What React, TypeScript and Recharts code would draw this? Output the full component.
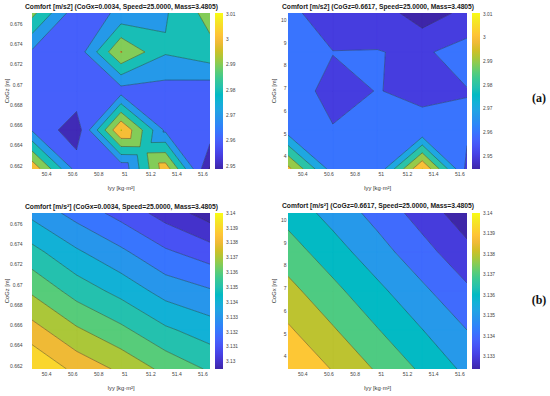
import { Bar, BarChart, Scatter, ScatterChart, XAxis, YAxis } from 'recharts';

// Grid nodes. Iyy runs along x in every panel; rows of the value tables go bottom -> top.
const IYY = [50.287, 50.629, 50.97, 51.312, 51.654];
const COGZ = [0.6617, 0.66555, 0.6694, 0.67325, 0.6771];
const COGX = [3.46, 5.1725, 6.885, 8.5975, 10.31];

const IYY_TICKS = [50.4, 50.6, 50.8, 51, 51.2, 51.4, 51.6];
const COGZ_TICKS = [0.662, 0.664, 0.666, 0.668, 0.67, 0.672, 0.674, 0.676];
const COGX_TICKS = [4, 5, 6, 7, 8, 9, 10];

// (a) comfort [m/s2]
const COMFORT_A_COGZ = [
  [3.008, 2.966, 2.962, 3.006, 2.9488],
  [2.969, 2.9537, 3.0104, 2.968, 2.966],
  [2.962, 2.967, 2.9655, 2.9657, 2.9636],
  [2.9685, 2.963, 3.0005, 2.981, 2.9865],
  [2.993, 2.9635, 2.972, 2.979, 2.994],
];
const COMFORT_A_COGX = [
  [3.003, 2.965, 2.962, 3.0104, 2.957],
  [2.965, 2.9602, 2.962, 2.961, 2.962],
  [2.9617, 2.9589, 2.9601, 2.9593, 2.9596],
  [2.963, 2.9601, 2.9603, 2.9586, 2.964],
  [2.9614, 2.957, 2.9555, 2.9445, 2.9528],
];
// (b) comfort [m/s²]
const COMFORT_B_COGZ = [
  [3.14, 3.13871, 3.1378, 3.13673, 3.13587],
  [3.1384, 3.13715, 3.13624, 3.13517, 3.1345],
  [3.13684, 3.13559, 3.13468, 3.13361, 3.1331],
  [3.13533, 3.13415, 3.1332, 3.13215, 3.1315],
  [3.13372, 3.13262, 3.13165, 3.1306, 3.1295],
];
const COMFORT_B_COGX = [
  [3.14, 3.13894, 3.13788, 3.13683, 3.13576],
  [3.13914, 3.1381, 3.13705, 3.13602, 3.135],
  [3.13832, 3.13728, 3.13625, 3.1352, 3.13418],
  [3.13747, 3.13645, 3.1354, 3.13437, 3.1333],
  [3.13664, 3.13563, 3.13465, 3.13357, 3.1324],
];

const LEVELS_A = [2.95, 2.96, 2.97, 2.98, 2.99, 3.0, 3.01];
const LEVELS_B_COGZ = [3.13, 3.131, 3.132, 3.133, 3.134, 3.135, 3.136, 3.137, 3.138, 3.139];
const LEVELS_B_COGX = [3.133, 3.134, 3.135, 3.136, 3.137, 3.138, 3.139];

const CB_TICKS_A = [2.95, 2.96, 2.97, 2.98, 2.99, 3, 3.01];
const CB_TICKS_B_COGZ = [3.13, 3.131, 3.132, 3.133, 3.134, 3.135, 3.136, 3.137, 3.138, 3.139, 3.14];
const CB_TICKS_B_COGX = [3.133, 3.134, 3.135, 3.136, 3.137, 3.138, 3.139, 3.14];

// parula, sampled every third entry of the 64-colour map
const PARULA = [
  '#3e26a8', '#4432cb', '#4741e5', '#4852f4', '#4563fd', '#3875fe', '#2e87f7', '#2796eb',
  '#20a5e3', '#12b1d6', '#02bac3', '#24c1ae', '#37c897', '#57cc7a', '#81cc59', '#abc739',
  '#d1bf27', '#efba36', '#fec338', '#fad62d', '#f5e924', '#f9fb15',
];

const FONT = '"Liberation Sans", Arial, sans-serif';
const TICK_STYLE = { fontSize: 5, fill: '#444', fontFamily: FONT };
const CB_TICK_STYLE = { fontSize: 4.8, fill: '#444', fontFamily: FONT };
const PLOT_H = 156;
const CB_W = 8;

type Vtx = [number, number, number];

function hexRgb(h: string) {
  return [1, 3, 5].map((i) => parseInt(h.slice(i, i + 2), 16));
}

function parula(t: number) {
  const u = Math.min(1, Math.max(0, t)) * (PARULA.length - 1);
  const i = Math.min(PARULA.length - 2, Math.floor(u));
  const f = u - i;
  const a = hexRgb(PARULA[i]);
  const b = hexRgb(PARULA[i + 1]);
  const c = a.map((v, k) => Math.round(v + f * (b[k] - v)));
  return `rgb(${c[0]},${c[1]},${c[2]})`;
}

// keep the part of a polygon above (or below) a level, interpolating along edges
function clip(poly: Vtx[], level: number, above: boolean): Vtx[] {
  const out: Vtx[] = [];
  for (let i = 0; i < poly.length; i++) {
    const a = poly[i];
    const b = poly[(i + 1) % poly.length];
    const ina = above ? a[2] >= level : a[2] <= level;
    const inb = above ? b[2] >= level : b[2] <= level;
    if (ina) out.push(a);
    if (ina !== inb) {
      const t = (level - a[2]) / (b[2] - a[2]);
      out.push([a[0] + t * (b[0] - a[0]), a[1] + t * (b[1] - a[1]), level]);
    }
  }
  return out;
}

function area(p: Vtx[]) {
  let s = 0;
  for (let i = 0; i < p.length; i++) {
    const a = p[i];
    const b = p[(i + 1) % p.length];
    s += a[0] * b[1] - b[0] * a[1];
  }
  return Math.abs(s) / 2;
}

// grid cells as quads; saddle cells are split in four triangles round their centre
function cellPolygons(xs: number[], ys: number[], z: number[][], levels: number[]) {
  const polys: Vtx[][] = [];
  for (let r = 0; r < ys.length - 1; r++) {
    for (let c = 0; c < xs.length - 1; c++) {
      const q: Vtx[] = [
        [xs[c], ys[r], z[r][c]],
        [xs[c + 1], ys[r], z[r][c + 1]],
        [xs[c + 1], ys[r + 1], z[r + 1][c + 1]],
        [xs[c], ys[r + 1], z[r + 1][c]],
      ];
      const saddle = levels.some((L) => {
        const s = q.map((p) => p[2] >= L);
        return s[0] === s[2] && s[1] === s[3] && s[0] !== s[1];
      });
      if (!saddle) {
        polys.push(q);
      } else {
        const m: Vtx = [0, 1, 2].map((k) => (q[0][k] + q[1][k] + q[2][k] + q[3][k]) / 4) as Vtx;
        for (let k = 0; k < 4; k++) polys.push([q[k], q[(k + 1) % 4], m]);
      }
    }
  }
  return polys;
}

function contourSegments(polys: Vtx[][], levels: number[]) {
  const segs: number[][][] = [];
  for (const p of polys) {
    for (const L of levels) {
      const pts: number[][] = [];
      for (let i = 0; i < p.length; i++) {
        const a = p[i];
        const b = p[(i + 1) % p.length];
        if (a[2] >= L !== b[2] >= L) {
          const t = (L - a[2]) / (b[2] - a[2]);
          pts.push([a[0] + t * (b[0] - a[0]), a[1] + t * (b[1] - a[1])]);
        }
      }
      if (pts.length === 2) segs.push(pts);
    }
  }
  return segs;
}

const noDot = () => <g />;

function fillRenderer(sizes: number[], fill: string) {
  return (props: any) => {
    const pts = props.points || [];
    let k = 0;
    let d = '';
    for (const n of sizes) {
      const ring = pts.slice(k, k + n).map((p: any) => `${p.x},${p.y}`);
      if (ring.length === n) d += `M${ring.join('L')}Z`;
      k += n;
    }
    return <path d={d} fill={fill} stroke={fill} strokeWidth={0.5} strokeLinejoin="round" />;
  };
}

function segRenderer(props: any) {
  const pts = props.points || [];
  let d = '';
  for (let i = 0; i + 1 < pts.length; i += 2) {
    d += `M${pts[i].x},${pts[i].y}L${pts[i + 1].x},${pts[i + 1].y}`;
  }
  return <path d={d} fill="none" stroke="#1e1e1e" strokeWidth={0.45} strokeOpacity={0.85} />;
}

interface PanelProps {
  id: string;
  z: number[][];
  ys: number[];
  yTicks: number[];
  levels: number[];
  cbTicks: number[];
  plotLeft: number;
  plotTop: number;
  plotWidth: number;
  cbLeft: number;
  yTickGap: number;
}

function ContourPanel({ id, z, ys, yTicks, levels, cbTicks, plotLeft, plotTop, plotWidth, cbLeft, yTickGap }: PanelProps) {
  const flat = z.flat();
  const zmin = Math.min(...flat);
  const zmax = Math.max(...flat);
  const polys = cellPolygons(IYY, ys, z, levels);
  const minArea = (IYY[4] - IYY[0]) * (ys[4] - ys[0]) * 1e-8;

  const bounds = [-Infinity, ...levels, Infinity];
  const bands = bounds.slice(0, -1).map((lo, i) => {
    const hi = bounds[i + 1];
    const pieces = polys
      .map((p) => {
        let g = p;
        if (lo > -Infinity) g = clip(g, lo, true);
        if (hi < Infinity && g.length) g = clip(g, hi, false);
        return g;
      })
      .filter((g) => g.length >= 3 && area(g) > minArea);
    const color = parula(((i === 0 ? zmin : lo) - zmin) / (zmax - zmin));
    return { pieces, color };
  });
  const segs = contourSegments(polys, levels);

  return (
    <>
      <div style={{ position: 'absolute', left: plotLeft - 32, top: plotTop - 13 }}>
        <ScatterChart
          width={plotWidth + 34}
          height={PLOT_H + 33}
          margin={{ top: 13, right: 2, bottom: 2, left: 8 }}
        >
          <XAxis
            type="number"
            dataKey="x"
            domain={[IYY[0], IYY[4]]}
            ticks={IYY_TICKS}
            interval={0}
            allowDataOverflow
            tickLine={false}
            axisLine={false}
            tickSize={2}
            tickMargin={1.5}
            height={18}
            tick={TICK_STYLE}
          />
          <YAxis
            type="number"
            dataKey="y"
            domain={[ys[0], ys[4]]}
            ticks={yTicks}
            interval={0}
            allowDataOverflow
            tickLine={false}
            axisLine={false}
            width={24}
            tickSize={yTickGap}
            tickMargin={0.5}
            tick={TICK_STYLE}
          />
          {bands
            .filter((b) => b.pieces.length > 0)
            .map((b, i) => (
              <Scatter
                key={`band-${i}`}
                data={b.pieces.flat().map(([x, y]) => ({ x, y }))}
                line={fillRenderer(b.pieces.map((p) => p.length), b.color)}
                shape={noDot}
                legendType="none"
                isAnimationActive={false}
              />
            ))}
          <Scatter
            data={segs.flat().map(([x, y]) => ({ x, y }))}
            line={segRenderer}
            shape={noDot}
            legendType="none"
            isAnimationActive={false}
          />
        </ScatterChart>
      </div>
      <div style={{ position: 'absolute', left: cbLeft - 2, top: plotTop - 13 }}>
        <BarChart
          width={2 + CB_W + 30}
          height={PLOT_H + 15}
          data={[{ k: 'cb', range: [zmin, zmax] }]}
          margin={{ top: 13, right: 2, bottom: 2, left: 2 }}
          barCategoryGap={0}
        >
          <defs>
            <linearGradient id={`parula-${id}`} x1="0" y1="1" x2="0" y2="0">
              {PARULA.map((c, i) => (
                <stop key={c} offset={i / (PARULA.length - 1)} stopColor={c} />
              ))}
            </linearGradient>
          </defs>
          <XAxis dataKey="k" hide />
          <YAxis
            orientation="right"
            type="number"
            domain={[zmin, zmax]}
            ticks={cbTicks}
            interval={0}
            allowDataOverflow
            tickLine={false}
            axisLine={false}
            width={28}
            tickSize={2}
            tickMargin={1}
            tick={CB_TICK_STYLE}
          />
          <Bar dataKey="range" fill={`url(#parula-${id})`} isAnimationActive={false} />
        </BarChart>
      </div>
    </>
  );
}

const TITLE = { fontFamily: FONT, fontSize: 6.3, fontWeight: 700, fill: '#1a1a1a' } as const;
const AXIS_LABEL = { fontFamily: FONT, fontSize: 5.8, fill: '#333' } as const;
const PANEL_TAG = { fontFamily: '"Liberation Serif", "DejaVu Serif", serif', fontSize: 12, fontWeight: 700, fill: '#111' } as const;

export default function App() {
  return (
    <div style={{ position: 'absolute', left: 0, top: 0, width: 550, height: 396, background: '#fff', overflow: 'hidden' }}>
      <ContourPanel id="a1" z={COMFORT_A_COGZ} ys={COGZ} yTicks={COGZ_TICKS} levels={LEVELS_A} cbTicks={CB_TICKS_A}
        plotLeft={32} plotTop={13} plotWidth={178} cbLeft={215} yTickGap={9} />
      <ContourPanel id="a2" z={COMFORT_A_COGX} ys={COGX} yTicks={COGX_TICKS} levels={LEVELS_A} cbTicks={CB_TICKS_A}
        plotLeft={288} plotTop={13} plotWidth={179} cbLeft={472} yTickGap={1} />
      <ContourPanel id="b1" z={COMFORT_B_COGZ} ys={COGZ} yTicks={COGZ_TICKS} levels={LEVELS_B_COGZ} cbTicks={CB_TICKS_B_COGZ}
        plotLeft={32} plotTop={213} plotWidth={178} cbLeft={215} yTickGap={9} />
      <ContourPanel id="b2" z={COMFORT_B_COGX} ys={COGX} yTicks={COGX_TICKS} levels={LEVELS_B_COGX} cbTicks={CB_TICKS_B_COGX}
        plotLeft={288} plotTop={213} plotWidth={179} cbLeft={472} yTickGap={1} />

      <svg width={550} height={396} style={{ position: 'absolute', left: 0, top: 0, pointerEvents: 'none' }}>
        <text x={121.5} y={9.2} textAnchor="middle" textLength={193} lengthAdjust="spacingAndGlyphs" {...TITLE}>
          Comfort [m/s2] (CoGx=0.0034, Speed=25.0000, Mass=3.4805)
        </text>
        <text x={378} y={9.2} textAnchor="middle" textLength={192} lengthAdjust="spacingAndGlyphs" {...TITLE}>
          Comfort [m/s2] (CoGz=0.6617, Speed=25.0000, Mass=3.4805)
        </text>
        <text x={121.5} y={208.5} textAnchor="middle" textLength={193} lengthAdjust="spacingAndGlyphs" {...TITLE}>
          Comfort [m/s²] (CoGx=0.0034, Speed=25.0000, Mass=3.4805)
        </text>
        <text x={378} y={208} textAnchor="middle" textLength={192} lengthAdjust="spacingAndGlyphs" {...TITLE}>
          Comfort [m/s²] (CoGz=0.6617, Speed=25.0000, Mass=3.4805)
        </text>

        <text x={121} y={190} textAnchor="middle" {...AXIS_LABEL}>Iyy [kg·m²]</text>
        <text x={377.5} y={190} textAnchor="middle" {...AXIS_LABEL}>Iyy [kg·m²]</text>
        <text x={121} y={390} textAnchor="middle" {...AXIS_LABEL}>Iyy [kg·m²]</text>
        <text x={377.5} y={390} textAnchor="middle" {...AXIS_LABEL}>Iyy [kg·m²]</text>

        <text transform="translate(9.3,91) rotate(-90)" textAnchor="middle" {...AXIS_LABEL}>CoGz [m]</text>
        <text transform="translate(9.3,291) rotate(-90)" textAnchor="middle" {...AXIS_LABEL}>CoGz [m]</text>
        <text transform="translate(275.5,91) rotate(-90)" textAnchor="middle" {...AXIS_LABEL}>CoGx [m]</text>
        <text transform="translate(275.5,291) rotate(-90)" textAnchor="middle" {...AXIS_LABEL}>CoGx [m]</text>

        <text x={539} y={102} textAnchor="middle" {...PANEL_TAG}>(a)</text>
        <text x={539} y={304} textAnchor="middle" {...PANEL_TAG}>(b)</text>
      </svg>
    </div>
  );
}
